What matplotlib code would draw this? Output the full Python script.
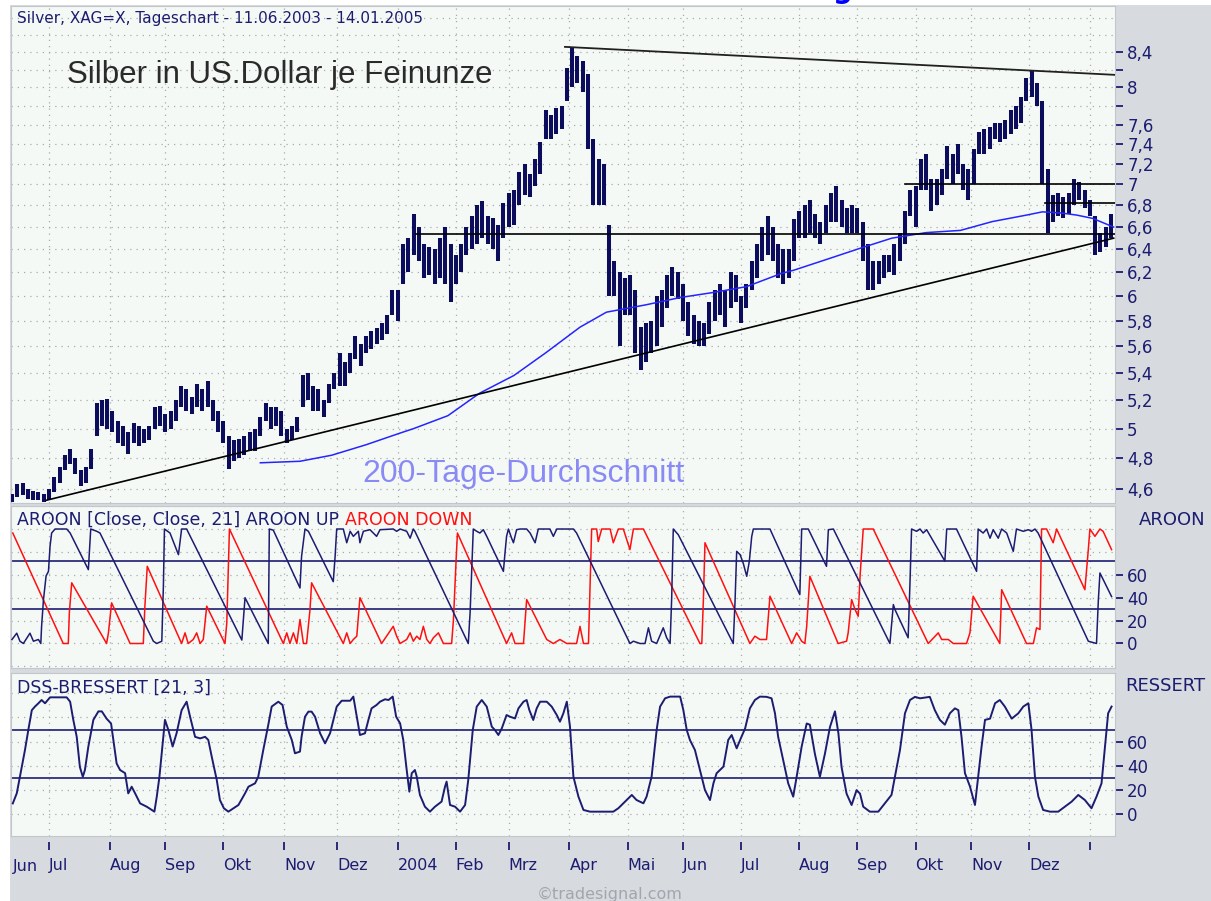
import numpy as np
import pandas as pd
import matplotlib
matplotlib.use("Agg")
import matplotlib.pyplot as plt
from matplotlib.patches import Rectangle
from matplotlib.ticker import NullLocator

W, H = 1211, 901

NAVY = '#1c1c70'
BAR_NAVY = '#0c0c5c'
RED = '#ff1010'
MA_BLUE = '#2424ff'
LABEL_BLUE = '#8a8af5'
GRAY_BG = '#d7dadf'
PANEL_BG = '#f5f9f6'
GRID_GRAY = '#a9aaac'

# trading days 11.06.2003 - 14.01.2005
dates = pd.bdate_range('2003-06-11', '2005-01-14')
month_starts = pd.date_range('2003-07-01', '2005-01-01', freq='MS')
month_idx = dates.searchsorted(month_starts)
month_labels = ['Jul', 'Aug', 'Sep', 'Okt', 'Nov', 'Dez', '2004', 'Feb', 'Mrz', 'Apr',
                'Mai', 'Jun', 'Jul', 'Aug', 'Sep', 'Okt', 'Nov', 'Dez', '']

# price bars (every second trading day), USD per ounce
bar_idx = np.arange(0, 417, 2)
bar_low = [
    4.52, 4.55, 4.56, 4.54, 4.53, 4.53, 4.52, 4.53, 4.58, 4.64,
    4.72, 4.76, 4.70, 4.62, 4.64, 4.73, 4.95, 5.02, 5.00, 4.98,
    4.90, 4.88, 4.83, 4.90, 4.88, 4.90, 4.92, 5.00, 5.02, 4.98,
    5.00, 5.05, 5.15, 5.12, 5.10, 5.15, 5.12, 5.15, 5.05, 4.98,
    4.90, 4.73, 4.78, 4.80, 4.82, 4.85, 4.85, 4.95, 5.05, 5.00,
    5.02, 4.95, 4.90, 4.92, 4.98, 5.15, 5.20, 5.12, 5.12, 5.08,
    5.18, 5.28, 5.30, 5.30, 5.40, 5.50, 5.45, 5.55, 5.58, 5.62,
    5.65, 5.70, 5.85, 5.80, 6.10, 6.20, 6.35, 6.30, 6.15, 6.18,
    6.10, 6.15, 6.10, 5.95, 6.10, 6.20, 6.35, 6.40, 6.45, 6.50,
    6.45, 6.40, 6.30, 6.50, 6.60, 6.62, 6.80, 6.90, 6.88, 6.98,
    7.10, 7.45, 7.45, 7.50, 7.55, 7.85, 8.00, 8.05, 7.95, 7.35,
    6.80, 6.80, 6.80, 6.00, 6.00, 5.60, 5.85, 5.85, 5.55, 5.42,
    5.48, 5.55, 5.60, 5.75, 5.90, 6.00, 5.98, 5.80, 5.68, 5.62,
    5.60, 5.60, 5.70, 5.80, 5.85, 5.75, 5.90, 5.95, 5.78, 5.90,
    6.05, 6.15, 6.30, 6.35, 6.30, 6.15, 6.10, 6.15, 6.30, 6.50,
    6.50, 6.55, 6.50, 6.45, 6.55, 6.65, 6.65, 6.60, 6.55, 6.55,
    6.55, 6.30, 6.05, 6.05, 6.10, 6.15, 6.20, 6.18, 6.30, 6.45,
    6.70, 6.60, 6.95, 6.95, 6.75, 6.80, 6.90, 7.05, 7.00, 7.10,
    6.95, 6.85, 7.00, 7.30, 7.30, 7.35, 7.45, 7.42, 7.45, 7.50,
    7.55, 7.62, 7.85, 7.90, 7.80, 7.00, 6.55, 6.65, 6.70, 6.68,
    6.72, 6.80, 6.85, 6.78, 6.70, 6.35, 6.38, 6.42, 6.50]
bar_high = [
    4.57, 4.63, 4.64, 4.60, 4.59, 4.58, 4.57, 4.60, 4.68, 4.74,
    4.82, 4.86, 4.80, 4.72, 4.74, 4.86, 5.18, 5.20, 5.21, 5.12,
    5.05, 5.02, 4.98, 5.04, 5.02, 5.00, 5.02, 5.15, 5.16, 5.10,
    5.12, 5.20, 5.30, 5.28, 5.22, 5.32, 5.28, 5.34, 5.20, 5.12,
    5.05, 4.95, 4.92, 4.93, 4.95, 4.98, 5.00, 5.08, 5.18, 5.15,
    5.15, 5.12, 5.00, 5.02, 5.08, 5.38, 5.40, 5.30, 5.28, 5.20,
    5.32, 5.40, 5.55, 5.48, 5.55, 5.68, 5.62, 5.68, 5.72, 5.74,
    5.78, 5.85, 6.05, 6.05, 6.45, 6.50, 6.72, 6.60, 6.45, 6.42,
    6.40, 6.50, 6.60, 6.45, 6.35, 6.45, 6.60, 6.70, 6.80, 6.84,
    6.70, 6.68, 6.62, 6.82, 6.92, 6.95, 7.12, 7.20, 7.10, 7.25,
    7.42, 7.75, 7.70, 7.78, 7.80, 8.22, 8.46, 8.35, 8.30, 8.15,
    7.45, 7.25, 7.20, 6.62, 6.30, 6.20, 6.15, 6.18, 6.05, 5.75,
    5.78, 5.80, 6.00, 6.05, 6.18, 6.25, 6.20, 6.10, 5.95, 5.85,
    5.80, 5.78, 5.95, 6.05, 6.10, 6.05, 6.20, 6.18, 6.00, 6.10,
    6.30, 6.45, 6.60, 6.70, 6.60, 6.45, 6.40, 6.40, 6.67, 6.75,
    6.80, 6.85, 6.72, 6.65, 6.80, 6.92, 6.98, 6.85, 6.78, 6.80,
    6.78, 6.65, 6.45, 6.30, 6.30, 6.35, 6.35, 6.45, 6.55, 6.75,
    6.95, 6.98, 7.25, 7.30, 7.05, 7.05, 7.15, 7.38, 7.30, 7.40,
    7.20, 7.15, 7.35, 7.52, 7.55, 7.58, 7.62, 7.62, 7.65, 7.75,
    7.80, 7.90, 8.10, 8.18, 8.05, 7.85, 7.15, 6.90, 6.92, 6.88,
    6.92, 7.05, 7.02, 6.95, 6.85, 6.70, 6.55, 6.60, 6.72]

# 200-day moving average
ma_idx = [94, 109, 121, 134, 147, 152, 165, 177, 190, 202, 215, 225, 240, 253, 265,
          278, 291, 296, 308, 321, 333, 346, 359, 371, 384, 390, 397, 403, 409, 417]
ma_val = [4.77, 4.78, 4.82, 4.89, 4.97, 5.00, 5.09, 5.25, 5.38, 5.55, 5.75, 5.87, 5.93, 5.99, 6.03,
          6.08, 6.19, 6.22, 6.31, 6.41, 6.50, 6.55, 6.57, 6.65, 6.71, 6.74, 6.73, 6.71, 6.68, 6.60]

# trend lines (start index, start price, end index, end price)
support_line = (13, 4.53, 417, 6.50)
resistance_line = (209.3, 8.46, 417.5, 8.14)
level_lines = [(153, 6.54), (338, 7.00), (391, 6.82)]

# AROON up / down
up_i = [
    0, 1.8, 3, 4.3, 6.8, 8.1, 10, 10.9, 11.2, 11.9,
    12.9, 13.8, 14.4, 15, 16.3, 20.7, 22, 28.9, 29.8, 32.1,
    33.3, 53.5, 54.8, 56.7, 57.3, 57.7, 59.8, 63, 64.2, 66.1,
    87, 88.2, 97, 97.4, 98.9, 109, 109.6, 110.9, 112.2, 121.6,
    122.3, 122.9, 125.4, 126.7, 128, 129.2, 131.1, 131.7, 133, 135.5,
    138, 139.3, 144.3, 145.6, 146.9, 149.4, 150.7, 151.9, 152.5, 172.7,
    173.4, 174.6, 175.9, 177.1, 178.4, 179.7, 186, 186.6, 187.2, 187.9,
    189.1, 189.8, 191, 192.3, 194.8, 196.1, 198, 199.2, 203.6, 204.9,
    206.2, 212.5, 213.7, 233.9, 235.2, 237.7, 239.6, 240.9, 242.1, 244,
    246.5, 247.8, 249.1, 249.7, 250.3, 252.2, 273, 273.7, 274.3, 275.6,
    276.8, 278.1, 279.1, 280, 280.6, 286.9, 298.2, 298.9, 301.4, 308.3,
    309, 310.9, 332.3, 333.6, 334.2, 339.2, 339.9, 340.5, 342.4, 343.7,
    344.9, 346.2, 353.1, 353.8, 357.5, 365.1, 365.7, 367.6, 368.9, 370.2,
    371.4, 373.3, 374.6, 376.5, 379, 380.2, 382.8, 384.7, 385.9, 387.2,
    388.4, 407.4, 410.5, 411.2, 411.8, 416.2]
up_v = [
    3.5, 9, 2, 0, 9, 2, 3.5, 0, 15, 38,
    59, 63, 85, 96.5, 100, 100, 96.5, 64.5, 100, 98,
    96.5, 2, 0, 2, 50, 100, 96.5, 77.6, 100, 100,
    3, 40, 0, 100, 99, 48.5, 76, 100, 98, 54,
    76, 100, 100, 88, 98, 93.6, 98, 88, 98, 99.4,
    93.6, 99.4, 100, 98, 100, 98, 92, 100, 98, 0,
    27, 100, 98, 96.5, 99.4, 93.6, 63, 79, 93.6, 100,
    92, 88, 99.4, 100, 100, 96.5, 88, 100, 100, 93.6,
    100, 100, 96.5, 0, 2, 0, 0, 13.7, 2, 0,
    13.7, 5, 0, 40, 100, 95, 0, 38, 80.5, 77.6,
    70, 58.7, 72, 93.6, 100, 100, 42.7, 100, 100, 67.4,
    99.4, 100, 0, 34, 29.7, 5, 53, 100, 98, 100,
    96.5, 99.4, 72, 100, 100, 63, 100, 96.5, 100, 92,
    99.4, 92, 100, 96.5, 80.5, 100, 98, 99.4, 98, 100,
    96.5, 2, 0, 38, 61.6, 41]
dn_i = [
    0.3, 19.4, 21.3, 21.7, 22.6, 35.8, 36.5, 37.7, 44.7, 49.7,
    50.3, 51.2, 64.2, 65.5, 66.7, 68.6, 69.9, 71.2, 72.4, 73.7,
    80.6, 81.3, 82.3, 102.7, 104, 105.2, 106.5, 107.8, 109, 110.3,
    111.5, 112.8, 113.4, 125.4, 126.7, 128, 129.2, 130.5, 131.7, 139.9,
    144.3, 145.6, 146.9, 149.4, 150.7, 151.9, 153.2, 154.4, 155.7, 157,
    158.2, 159.5, 161.4, 163.3, 166.4, 167.1, 168.1, 168.6, 187.2, 189.1,
    190.4, 193.6, 194.8, 202.4, 204.9, 207.4, 210, 213.7, 215, 216.3,
    218.2, 218.8, 219.4, 221.3, 221.9, 223.2, 226.4, 227.6, 229.5, 231.4,
    233.9, 235.2, 239, 260.4, 261.1, 261.7, 262.3, 279.3, 281.2, 283.1,
    285.6, 286.9, 295.1, 297, 298.9, 300.1, 300.8, 302, 312.7, 315.9,
    316.5, 317.8, 319.1, 320.3, 321, 322.2, 326, 346.8, 350.6, 351.9,
    354.4, 356.3, 361.3, 362.6, 363.8, 373.9, 374.6, 384, 386.6, 387.8,
    389.1, 389.7, 391.6, 394.1, 395.4, 406.1, 407.4, 408, 409.9, 411.8,
    413, 416.2]
dn_v = [
    96.5, 0, 0, 26.7, 53, 0, 9.3, 35.5, 0, 0,
    32.6, 67.4, 0, 9.3, 0, 3.5, 9.3, 0, 3.5, 32.6,
    0, 18, 100, 0, 9.3, 0, 9.3, 0, 21, 0,
    0, 29.7, 53, 0, 9.3, 0, 3.5, 6.4, 40, 0,
    15, 6.4, 0, 3.5, 9.3, 2, 6.4, 3.5, 15, 3.5,
    0, 5, 9.3, 0, 0, 21, 73, 96.5, 0, 9.3,
    0, 0, 38.4, 3.5, 0, 3.5, 0, 0, 15, 0,
    0, 50, 100, 100, 89, 100, 100, 88, 100, 100,
    82, 100, 100, 0, 0, 38.4, 88, 0, 6.4, 3.5,
    3.5, 41.3, 0, 9.3, 2, 0, 15, 58.7, 0, 2,
    9.3, 38.4, 29.7, 23.8, 58.7, 100, 100, 0, 9.3, 3.5,
    3.5, 0, 0, 9.3, 41.3, 0, 47, 0, 0, 13.7,
    12.2, 100, 100, 88, 100, 47, 82, 100, 93.6, 100,
    98, 82]

# DSS-Bressert [21, 3]
dss_i = [
    0.3, 1.8, 3.0, 4.9, 6.2, 7.5, 8.7, 10, 11.2, 12.5,
    14.4, 20.7, 22, 23.2, 24.5, 25.7, 26.8, 27.6, 28.9, 30.8,
    32.7, 34, 35.8, 37.5, 38.4, 39.6, 40.9, 42.8, 44, 45.3,
    46.6, 48.5, 51, 52.9, 53.9, 54.8, 55.8, 57.3, 57.9, 59.2,
    60.8, 62.3, 64.2, 66.1, 67.4, 69.3, 71.2, 73.1, 74.3, 75.6,
    77.5, 78.7, 80.2, 81.9, 83.8, 85.7, 88.2, 89.5, 92, 93.2,
    95.1, 97, 98.3, 100.8, 102.4, 104, 105.9, 107.1, 109, 109.6,
    110.9, 112.2, 113.4, 114.7, 116.6, 118.5, 120.4, 122.9, 124.8, 128,
    129.2, 130.5, 131.7, 133.6, 134.9, 136.1, 138, 139.3, 141.2, 142.5,
    144.1, 145.4, 146.9, 148.1, 149.4, 150.4, 151.3, 152.5, 153.2, 154.4,
    156.3, 158.2, 160.1, 162.6, 163.9, 164.5, 165.8, 167.7, 169.6, 171.5,
    172.7, 174.4, 175.9, 177.8, 179.7, 181.6, 182.8, 184.1, 185.4, 187.2,
    188.5, 190.4, 191.7, 193.6, 194.8, 195.8, 197.3, 198.6, 199.9, 202.4,
    204.3, 206.2, 207.4, 208.7, 210, 211.2, 212.5, 214.4, 216.3, 218.8,
    227.6, 229.5, 231.4, 234.6, 236.4, 239, 240.2, 242.1, 244, 245.3,
    247.2, 249.1, 252.9, 254.1, 255.4, 256.6, 258.5, 260.4, 262.3, 264.2,
    265.5, 266.7, 269.3, 271.1, 272.4, 274.3, 275.6, 277.5, 279.3, 281.2,
    283.1, 285.6, 287.5, 288.8, 290, 291.9, 293.8, 295.7, 297, 298.9,
    300.8, 302, 303.9, 305.8, 307.7, 309.6, 311.5, 312.8, 314, 315.9,
    317.8, 319.7, 321, 322.2, 324.7, 327.9, 330.4, 332.9, 334.2, 336.1,
    338, 339.9, 341.8, 343.7, 347.4, 349.3, 351.2, 353.1, 355, 356.9,
    358.2, 359.4, 360.7, 362.6, 364.5, 365.7, 367, 368.3, 370.2, 372.1,
    373.9, 375.8, 378.4, 380.9, 382.8, 384.7, 385.9, 387.2, 388.5, 390.3,
    392.9, 396, 398.5, 401.1, 403.6, 406.1, 408.6, 410.5, 412.4, 413.7,
    414.9, 416.2]
dss_v = [
    9, 17.3, 31, 53, 70, 86, 89, 91.7, 94.4, 91.7,
    96.6, 96.6, 93, 78, 64, 39, 31, 36.6, 56, 78,
    85, 85, 79, 75, 61, 42, 36.6, 34, 17.3, 22.8,
    17.3, 9, 6.3, 3.6, 2.2, 14.6, 31, 64, 78, 69.6,
    56, 67, 86, 93, 80.6, 64, 62.7, 64, 61.4, 47.6,
    28.4, 11.8, 5, 2.2, 5, 7.7, 17.3, 22.8, 25.6, 31,
    53, 73.8, 89, 93, 90.3, 72.4, 61.4, 50.4, 51.8, 64,
    80.6, 84.8, 84.8, 80.6, 67, 58.6, 67, 88.9, 93.8, 93.8,
    97.2, 80.6, 65.5, 66.9, 77.9, 87.5, 90.3, 93, 95, 94.4,
    97.2, 80.6, 75.1, 61.4, 36.6, 18.7, 33.9, 36.6, 31.1, 16,
    6.3, 2.2, 6.3, 10.5, 22.8, 27, 7.7, 6.3, 2.2, 7.7,
    28.4, 69.6, 88.9, 94.4, 88.9, 72.4, 69.6, 65.5, 71, 82,
    80.6, 79.2, 87.5, 93, 94.4, 86.2, 77.9, 87.5, 93, 93,
    88.9, 82, 76.5, 83.4, 93, 72.4, 31.1, 14.6, 3.6, 2.2,
    2.2, 5, 9.1, 16, 11.8, 9.1, 14.6, 31.1, 69.6, 88.9,
    95.8, 97.2, 97.2, 86.2, 69.6, 61.4, 53.1, 36.6, 20, 11.8,
    25.6, 33.9, 39.4, 61.4, 65.5, 54.5, 61.4, 71, 87.5, 94.4,
    97.2, 97, 95.8, 83.4, 64, 45, 25.6, 14.6, 31, 56,
    75, 74, 50, 31, 50, 72, 85, 67, 39, 17,
    7.7, 20, 17, 6.3, 2.2, 2.2, 9.1, 16, 31, 53,
    83.4, 94.4, 97, 95.8, 97, 86, 78, 74, 83.4, 87.5,
    86, 64, 34, 23, 7.7, 31, 56, 78, 79, 91.7,
    94.4, 89, 79, 83.4, 89, 91.7, 70, 31, 14.6, 3.6,
    2.2, 2.2, 6.3, 10.5, 16, 11.8, 5, 14.6, 25.6, 56,
    83.4, 89]


def fx(px):
    return px / W


def fy(py):
    return 1 - py / H


fig = plt.figure(figsize=(W / 100, H / 100), dpi=100)
fig.patch.set_facecolor('white')
fig.add_artist(Rectangle((fx(10), 0), 1 - fx(10), fy(5), transform=fig.transFigure,
                         facecolor=GRAY_BG, edgecolor='none', zorder=0))


def panel(top, bottom):
    ax = fig.add_axes([fx(11), fy(bottom), 1104 / W, (bottom - top) / H])
    ax.set_facecolor(PANEL_BG)
    for s in ax.spines.values():
        s.set_color('#c3c7cc')
        s.set_linewidth(0.8)
    ax.set_xlim(-0.38, 417.5)
    ax.set_xticks([])
    for m in month_idx:
        ax.axvline(m, color=GRID_GRAY, lw=0.9, ls=(0, (1, 4)), zorder=0)
    ax.yaxis.tick_right()
    ax.tick_params(axis='y', direction='out', length=5.8, width=1.3, colors=NAVY,
                   labelsize=12, pad=3)
    return ax


# ---- price panel ----
ax1 = panel(6, 503)
ax1.set_yscale('log')
ax1.set_ylim(4.513, 8.95)
ax1.yaxis.set_minor_locator(NullLocator())
for g in np.round(np.arange(4.6, 8.81, 0.2), 1):
    ax1.axhline(g, color=GRID_GRAY, lw=0.9, ls=(0, (1, 4)), zorder=0)
price_ticks = np.round(np.arange(4.6, 8.41, 0.2), 1)
price_labels = ['' if t in (7.8, 8.2) else ('%g' % t).replace('.', ',') for t in price_ticks]
ax1.set_yticks(price_ticks)
ax1.set_yticklabels(price_labels)

ax1.vlines(bar_idx, bar_low, bar_high, color=BAR_NAVY, lw=2.9, zorder=3)
ax1.plot(ma_idx, ma_val, color=MA_BLUE, lw=1.1, zorder=4)
ax1.plot(support_line[0::2], support_line[1::2], color='black', lw=1.2, zorder=5)
ax1.plot(resistance_line[0::2], resistance_line[1::2], color='#202020', lw=1.3, zorder=5)
for start, level in level_lines:
    ax1.plot([start, 417.5], [level, level], color='black', lw=1.2, zorder=5)

fig.text(fx(17), fy(19), 'Silver, XAG=X, Tageschart - 11.06.2003 - 14.01.2005',
         color=NAVY, fontsize=11, ha='left', va='center')
fig.text(fx(67), fy(83), 'Silber in US.Dollar je Feinunze', family='Liberation Sans',
         color='#2a2a2a', fontsize=22.5, ha='left', va='baseline')
fig.text(fx(362), fy(482), '200-Tage-Durchschnitt', family='Liberation Sans',
         color=LABEL_BLUE, fontsize=23, ha='left', va='baseline')
fig.text(fx(843), fy(-2), 'g', color='#0000ff', fontsize=20, fontweight='bold',
         ha='center', va='baseline')

# ---- AROON panel ----
ax2 = panel(506, 668)
ax2.set_ylim(-21.4, 120.1)
for g in range(-20, 121, 20):
    ax2.axhline(g, color=GRID_GRAY, lw=0.9, ls=(0, (1, 4)), zorder=0)
ax2.set_yticks([0, 20, 40, 60])
ax2.axhline(72, color=NAVY, lw=1.2, zorder=2)
ax2.axhline(30, color=NAVY, lw=1.2, zorder=2)
ax2.plot(dn_i, dn_v, color=RED, lw=1.1, zorder=3)
ax2.plot(up_i, up_v, color=NAVY, lw=1.1, zorder=4)

t = fig.text(fx(17), fy(520), 'AROON [Close, Close, 21] AROON UP', color=NAVY,
             fontsize=12.5, ha='left', va='center')
ax2.annotate('AROON DOWN', xy=(1, 0.5), xycoords=t, xytext=(6, 0), textcoords='offset pixels',
             color=RED, fontsize=12.5, ha='left', va='center')
fig.text(fx(1205), fy(520), 'AROON', color=NAVY, fontsize=13, ha='right', va='center')

# ---- DSS panel ----
ax3 = panel(673, 836)
ax3.set_ylim(-17.9, 116.7)
for g in range(-20, 121, 20):
    ax3.axhline(g, color=GRID_GRAY, lw=0.9, ls=(0, (1, 4)), zorder=0)
ax3.set_yticks([0, 20, 40, 60])
ax3.axhline(70, color=NAVY, lw=1.2, zorder=2)
ax3.axhline(30, color=NAVY, lw=1.2, zorder=2)
ax3.plot(dss_i, dss_v, color=NAVY, lw=1.4, zorder=4)

fig.text(fx(17), fy(688), 'DSS-BRESSERT [21, 3]', color=NAVY, fontsize=12.5,
         ha='left', va='center')
fig.text(fx(1205), fy(686), 'RESSERT', color=NAVY, fontsize=13, ha='right', va='center')

# month axis below the panels
sec = ax3.secondary_xaxis(-6 / 163)
sec.spines['bottom'].set_visible(False)
sec.set_xticks(month_idx)
sec.set_xticklabels(month_labels)
sec.tick_params(direction='out', length=5.8, width=1.3, colors=NAVY, labelsize=11.5, pad=6)
for lbl in sec.get_xticklabels():
    lbl.set_horizontalalignment('left')
fig.text(fx(13), fy(867), 'Jun', color=NAVY, fontsize=11.5, ha='left', va='center')

fig.text(fx(610), fy(894), '\u00a9tradesignal.com', color='#a2a6ad', fontsize=11.5,
         ha='center', va='center')

fig.savefig('out.png', dpi=100, facecolor=fig.get_facecolor())
